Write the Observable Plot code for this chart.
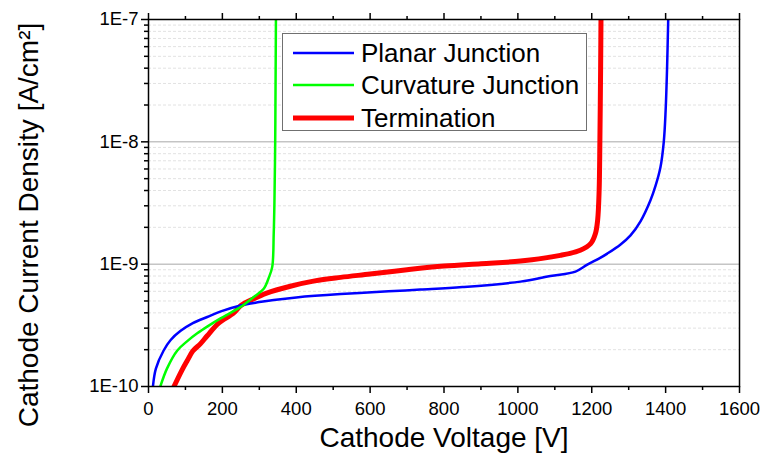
<!DOCTYPE html>
<html>
<head>
<meta charset="utf-8">
<script src="https://cdn.jsdelivr.net/npm/d3@7"></script>
<script src="https://cdn.jsdelivr.net/npm/@observablehq/plot@0.6"></script>
<style>
  body { margin: 0; background: #fff; }
  #wrap { position: relative; width: 762px; height: 465px; font-family: "Liberation Sans", Arial, sans-serif; }
  #legend { position: absolute; left: 282px; top: 33px; width: 303px; height: 96px; border: 1px solid #707070; background: #fff; }
  .row { position: absolute; left: 0; height: 30px; display: flex; align-items: center; font-size: 26px; color: #000; white-space: nowrap; }
  .row svg { margin-left: 10px; margin-right: 7px; }
</style>
</head>
<body>
<div id="wrap"></div>
<script>
// ---- data ----
const seriesNames = ["Planar Junction", "Curvature Junction", "Termination"];
const seriesColors = ["#0000ff", "#00ff00", "#ff0000"];
const seriesWidths = [2.5, 2.5, 5];

const planarV = [12, 20, 41, 60, 87, 120, 159, 200, 249, 300, 339, 400, 520, 650, 736, 850, 1007, 1088, 1156, 1188, 1224, 1242, 1278, 1305, 1332, 1359, 1373, 1386, 1395, 1400, 1404, 1407];
const planarJ = [1e-10, 1.4e-10, 1.97e-10, 2.4e-10, 2.85e-10, 3.3e-10, 3.7e-10, 4.15e-10, 4.6e-10, 4.9e-10, 5.1e-10, 5.35e-10, 5.7e-10, 6.0e-10, 6.2e-10, 6.5e-10, 7.2e-10, 8.0e-10, 8.7e-10, 9.9e-10, 1.13e-9, 1.22e-9, 1.45e-9, 1.72e-9, 2.24e-9, 3.33e-9, 4.4e-9, 6.2e-9, 1e-8, 1.8e-8, 4.1e-8, 1e-7];

const curvatureV = [32, 50, 78, 105, 132, 160, 195, 222, 249, 285, 312, 326, 335, 339, 341, 343, 344, 345];
const curvatureJ = [1e-10, 1.4e-10, 1.97e-10, 2.35e-10, 2.72e-10, 3.1e-10, 3.6e-10, 4.0e-10, 4.46e-10, 5.4e-10, 6.3e-10, 7.8e-10, 9.5e-10, 1.78e-9, 3.3e-9, 1e-8, 3e-8, 1e-7];

const terminationV = [69, 90, 105, 120, 141, 159, 190, 231, 250, 276, 320, 384, 450, 520, 600, 700, 800, 900, 1007, 1115, 1169, 1197, 1210, 1216, 1220, 1222, 1224, 1225];
const terminationJ = [1e-10, 1.35e-10, 1.63e-10, 1.95e-10, 2.24e-10, 2.6e-10, 3.3e-10, 4.0e-10, 4.6e-10, 5.06e-10, 5.8e-10, 6.6e-10, 7.3e-10, 7.8e-10, 8.3e-10, 9.0e-10, 9.65e-10, 1.01e-9, 1.06e-9, 1.18e-9, 1.3e-9, 1.47e-9, 1.78e-9, 2.3e-9, 4e-9, 1e-8, 4e-8, 1e-7];

const xMajorTicks = [0, 200, 400, 600, 800, 1000, 1200, 1400, 1600];
const xMinorTicks = [100, 300, 500, 700, 900, 1100, 1300, 1500];
const yMajorTicks = [1e-10, 1e-9, 1e-8, 1e-7];
const yTickLabels = ["1E-10", "1E-9", "1E-8", "1E-7"];
const yMinorTicks = [];
for (const d of [1e-10, 1e-9, 1e-8]) for (let k = 2; k <= 9; k++) yMinorTicks.push(+(k * d).toPrecision(3));
const yGridMajor = [1e-9, 1e-8];

const xTitle = "Cathode Voltage [V]";
const yTitle = "Cathode Current Density [A/cm²]";

// ---- build table ----
const seriesV = [planarV, curvatureV, terminationV];
const seriesJ = [planarJ, curvatureJ, terminationJ];
const rows = [];
seriesNames.forEach((name, s) => seriesV[s].forEach((v, i) => rows.push({series: name, v, j: seriesJ[s][i]})));

const fmtY = d => yTickLabels[yMajorTicks.findIndex(t => Math.abs(Math.log10(t) - Math.log10(d)) < 1e-6)] ?? "";

const lineMarks = seriesNames.map((name, s) =>
  Plot.line(rows.filter(r => r.series === name), {
    x: "v", y: "j", stroke: seriesColors[s], strokeWidth: seriesWidths[s],
    curve: "catmull-rom", clip: true
  })
);

const chart = Plot.plot({
  width: 762,
  height: 465,
  marginLeft: 148,
  marginRight: 23,
  marginTop: 19,
  marginBottom: 79,
  style: {fontFamily: "'Liberation Sans', Arial, sans-serif", fontSize: "18.5px", color: "#000", background: "#fff"},
  x: {domain: [0, 1600]},
  y: {type: "log", domain: [1e-10, 1e-7]},
  marks: [
    Plot.ruleY(yMinorTicks, {stroke: "#e2e2e2", strokeWidth: 1, strokeDasharray: "3,2"}),
    Plot.ruleY(yGridMajor, {stroke: "#a8a8a8", strokeWidth: 1}),
    lineMarks[2], lineMarks[0], lineMarks[1],
    Plot.axisX({ticks: xMajorTicks, tickSize: 7, tickPadding: 8, tickFormat: d => String(d), label: null, strokeWidth: 1.5}),
    Plot.axisX({ticks: xMinorTicks, tickSize: 4, tickFormat: () => "", label: null, strokeWidth: 1.5}),
    Plot.axisX({anchor: "top", ticks: xMajorTicks, tickSize: 7, tickFormat: () => "", label: null, strokeWidth: 1.5}),
    Plot.axisX({anchor: "top", ticks: xMinorTicks, tickSize: 4, tickFormat: () => "", label: null, strokeWidth: 1.5}),
    Plot.axisY({ticks: yMajorTicks, tickSize: 7, tickPadding: 3, tickFormat: fmtY, label: null, strokeWidth: 1.5}),
    Plot.axisY({ticks: yMinorTicks, tickSize: 4, tickFormat: () => "", label: null, strokeWidth: 1.5}),
    Plot.frame({stroke: "#000", strokeWidth: 1.5}),
    Plot.text([xTitle], {frameAnchor: "bottom", dy: 60, fontSize: 28, fill: "#000"}),
    Plot.text([yTitle], {frameAnchor: "left", textAnchor: "middle", rotate: -90, dx: -119, dy: 22, fontSize: 28, fill: "#000"})
  ]
});

const wrap = document.getElementById("wrap");
wrap.appendChild(chart);

// legend
const legend = document.createElement("div");
legend.id = "legend";
const rowTops = [4, 36, 69];
seriesNames.forEach((name, s) => {
  const r = document.createElement("div");
  r.className = "row";
  r.style.top = rowTops[s] + "px";
  r.innerHTML = `<svg width="61" height="10"><line x1="0" x2="61" y1="5" y2="5" stroke="${seriesColors[s]}" stroke-width="${seriesWidths[s]}"/></svg><span>${name}</span>`;
  legend.appendChild(r);
});
wrap.appendChild(legend);
</script>
</body>
</html>
